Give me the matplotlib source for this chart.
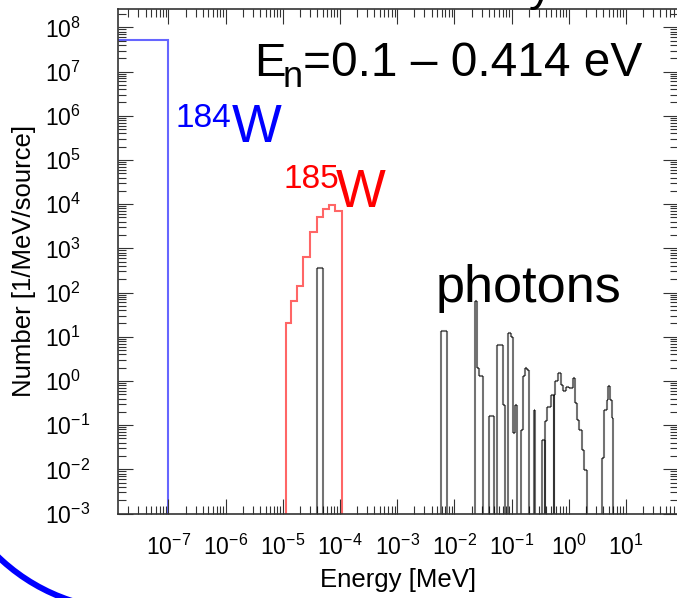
import numpy as np
import matplotlib
matplotlib.use("Agg")
import matplotlib.pyplot as plt
from matplotlib.ticker import LogLocator, FixedLocator, NullFormatter
from matplotlib.collections import LineCollection
from matplotlib.patches import Arc

plt.rcParams['font.family'] = ['Liberation Sans', 'DejaVu Sans']
plt.rcParams['mathtext.fontset'] = 'custom'
plt.rcParams['mathtext.rm'] = 'Liberation Sans'
plt.rcParams['mathtext.it'] = 'Liberation Sans:italic'
plt.rcParams['mathtext.bf'] = 'Liberation Sans:bold'
plt.rcParams['mathtext.sf'] = 'Liberation Sans'

# ==============================
# DATA
# ==============================
# 184W (thermal source region)
w184_edges = [1.0e-8, 1.0e-7, 1.0e2]
w184_counts = [5.2e7, 0.0]

# 185W recoil
w185_edges = [1.127e-5, 1.380e-5, 1.758e-5, 2.291e-5, 2.999e-5, 3.926e-5,
              5.000e-5, 6.442e-5, 8.204e-5, 1.074e-4]
w185_counts = [21, 66, 142, 650, 2330, 5240, 7710, 9490, 7050]

# photons: bin low edge, bin high edge [MeV], counts [1/MeV/source]
photon_lo = [3.90e-5, 5.78e-3, 0.0230, 0.0247, 0.0274, 0.0409, 0.0565, 0.0719,
             0.0879, 0.0968, 0.1074, 0.1151, 0.1449, 0.1570, 0.1722, 0.1845,
             0.2443, 0.3373, 0.3926, 0.4227, 0.4842, 0.5623, 0.5754, 0.6577,
             0.7244, 0.8054, 0.8974, 1.0233, 1.1749, 1.2882, 1.3804, 1.5311,
             1.6866, 1.8493, 3.776, 4.140, 4.613, 4.920, 5.272, 5.649]
photon_hi = [5.00e-5, 7.55e-3, 0.0247, 0.0274, 0.0314, 0.0494, 0.0719, 0.0780,
             0.0968, 0.1074, 0.1151, 0.1247, 0.1570, 0.1722, 0.1845, 0.2000,
             0.2576, 0.3819, 0.4227, 0.4842, 0.5470, 0.5754, 0.6577, 0.7244,
             0.8054, 0.8974, 1.0233, 1.1749, 1.2882, 1.3804, 1.5311, 1.6866,
             1.8493, 2.0654, 4.140, 4.613, 4.920, 5.272, 5.649, 6.026]
photon_counts = [355, 13.8, 66, 1.95, 1.26, 0.162, 6.6, 0.29,
                 12.0, 10.0, 0.066, 0.29, 0.078, 1.26, 2.0, 1.78,
                 0.22, 0.047, 0.126, 0.26, 0.49, 0.49, 0.98, 1.51,
                 0.81, 0.58, 0.74, 0.69, 1.15, 0.32, 0.13, 0.078,
                 0.028, 0.0098, 0.018, 0.22, 0.37, 0.78, 0.37, 0.145]

# decades that carry a label
x_decades = [1e-7, 1e-6, 1e-5, 1e-4, 1e-3, 1e-2, 1e-1, 1e0, 1e1]
y_decades = [1e-3, 1e-2, 1e-1, 1e0, 1e1, 1e2, 1e3, 1e4, 1e5, 1e6, 1e7, 1e8]

FLOOR = 1e-6   # empty bins, below the axis


def px(x, y):
    # pixel position (from top-left) -> figure fraction
    return x / 677.0, 1.0 - y / 598.0


def outline_segments(los, his, vals):
    segs = []
    prev = FLOOR
    prev_hi = None
    for lo, hi, v in zip(los, his, vals):
        if prev_hi is not None and lo > prev_hi:
            segs.append([(prev_hi, prev), (prev_hi, FLOOR)])
            prev = FLOOR
        segs.append([(lo, prev), (lo, v)])
        segs.append([(lo, v), (hi, v)])
        prev = v
        prev_hi = hi
    segs.append([(prev_hi, prev), (prev_hi, FLOOR)])
    return segs


# ==============================
# FIGURE
# ==============================
fig = plt.figure(figsize=(6.77, 5.98), dpi=100)
ax = fig.add_axes([117.5 / 677, 84.5 / 598, (678 - 117.5) / 677, (513.5 - 9.3) / 598])
ax.set_xscale('log')
ax.set_yscale('log')

w184_plot = [c if c > 0 else FLOOR for c in w184_counts]
ax.stairs(w184_plot, w184_edges, baseline=None, color=(0, 0, 1), alpha=0.6, lw=1.5)
ax.stairs(w185_counts, w185_edges, baseline=FLOOR, color=(1, 0, 0), alpha=0.6, lw=1.5)

segs = outline_segments(photon_lo, photon_hi, photon_counts)
lc = LineCollection(segs, colors='black', alpha=0.55, linewidths=1.5, capstyle='butt')
ax.add_collection(lc)

ax.set_xlim(1.29e-8, 81.5)
ax.set_ylim(1e-3, 2.57e8)

ax.xaxis.set_major_locator(FixedLocator(x_decades))
ax.yaxis.set_major_locator(FixedLocator(y_decades))
for axis in (ax.xaxis, ax.yaxis):
    axis.set_minor_locator(LogLocator(base=10, subs=np.arange(2, 10), numticks=40))
    axis.set_minor_formatter(NullFormatter())

ax.tick_params(which='both', direction='in', top=True, right=True,
               width=0.8, color='#333333', labelcolor='black')
ax.tick_params(which='major', length=11)
ax.tick_params(which='minor', length=5.8)
ax.tick_params(axis='x', labelsize=16.5, pad=15)
ax.tick_params(axis='y', labelsize=16.5, pad=52)
for lbl in ax.get_yticklabels():
    lbl.set_horizontalalignment('left')

for s in ax.spines.values():
    s.set_linewidth(1.2)
    s.set_color('#333333')

ax.set_xlabel('Energy [MeV]', fontsize=18.5)
ax.set_ylabel('Number [1/MeV/source]', fontsize=18.5)
ax.xaxis.set_label_coords(0.5, -0.108)
ax.yaxis.set_label_coords(-0.145, 0.5)

# annotations
fig.text(*px(254, 76), 'E', fontsize=34, ha='left', va='baseline')
fig.text(*px(283, 86.7), 'n', fontsize=26, ha='left', va='baseline')
fig.text(*px(303, 76), '=0.1 – 0.414 eV', fontsize=34.5, ha='left', va='baseline')
fig.text(*px(176, 126.7), '184', fontsize=24, color='#0000ff', ha='left', va='baseline')
fig.text(*px(232, 141.7), 'W', fontsize=38, color='#0000ff', ha='left', va='baseline')
fig.text(*px(283, 188.3), '185', fontsize=24, color='#ff0000', ha='left', va='baseline')
fig.text(*px(336, 207), 'W', fontsize=38, color='#ff0000', ha='left', va='baseline')
fig.text(*px(436, 301.7), 'photons', fontsize=37.5, ha='left', va='baseline')
# bottom of a cut-off slide title
fig.text(*px(529, 0.5), 'y', fontsize=34, ha='left', va='baseline')

# slide decoration arc, bottom-left
cx, cy = px(130, 420)
r = 190
fig.add_artist(Arc((cx, cy), 2 * r / 677, 2 * r / 598, theta1=180, theta2=275,
                   transform=fig.transFigure, color='#0000ff', lw=4.3, clip_on=False))

fig.savefig('out.png', dpi=100)
